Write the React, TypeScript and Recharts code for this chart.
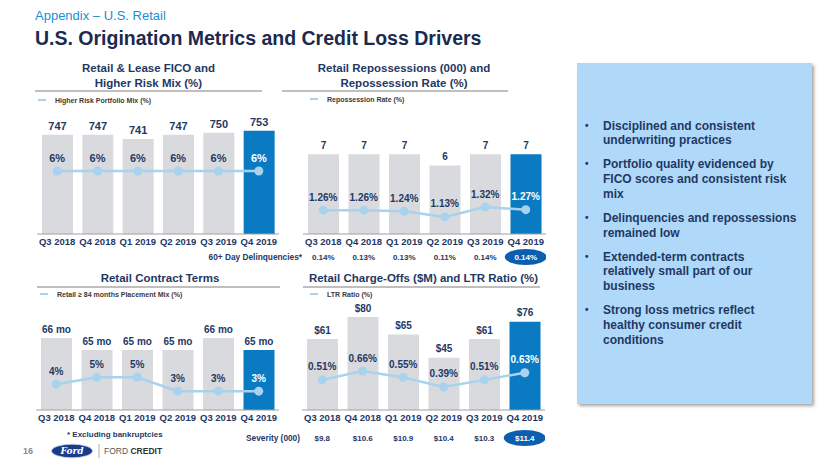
import React from 'react';
import { ComposedChart, Bar, Line, XAxis, YAxis, Cell, LabelList } from 'recharts';

// quarters shared by all four panels
const quarters = ['Q3 2018', 'Q4 2018', 'Q1 2019', 'Q2 2019', 'Q3 2019', 'Q4 2019'];

// Retail & Lease FICO and Higher Risk Mix
const ficoScores = [747, 747, 741, 747, 750, 753];
const higherRiskMix = [6, 6, 6, 6, 6, 6];

// Retail Repossessions (000) and Repossession Rate
const repossessions = [7, 7, 7, 6, 7, 7];
const repossessionRate = [1.26, 1.26, 1.24, 1.13, 1.32, 1.27];
const delinquencies = [0.14, 0.13, 0.13, 0.11, 0.14, 0.14];

// Retail Contract Terms
const contractTerms = [66, 65, 65, 65, 66, 65];
const extendedTermMix = [4, 5, 5, 3, 3, 3];

// Retail Charge-Offs ($M) and LTR Ratio
const chargeOffs = [61, 80, 65, 45, 61, 76];
const ltrRatio = [0.51, 0.66, 0.55, 0.39, 0.51, 0.63];
const severity = [9.8, 10.6, 10.9, 10.4, 10.3, 11.4];

const bullets = [
  ['Disciplined and consistent', 'underwriting practices'],
  ['Portfolio quality evidenced by', 'FICO scores and consistent risk', 'mix'],
  ['Delinquencies and repossessions', 'remained low'],
  ['Extended-term contracts', 'relatively small part of our', 'business'],
  ['Strong loss metrics reflect', 'healthy consumer credit', 'conditions'],
];

const FONT = '"Liberation Sans", Arial, sans-serif';
const NAVY = '#1f3864';
const GRAY_BAR = '#d9dadd';
const BLUE_BAR = '#0a7bc2';
const LINE = '#a8d2ee';
const OVAL = '#0c5fae';
const last = quarters.length - 1;

type PanelProps = {
  left: number;
  top: number;
  width: number;
  plotHeight: number;
  bars: number[];
  line: number[];
  barDomain: [number, number];
  lineDomain: [number, number];
  barFmt: (v: number) => string;
  lineFmt: (v: number) => string;
  labelSize: number;
  row?: string[];
  rowOffset?: number;
};

function box(props: any) {
  const vb = props.viewBox || {};
  return {
    x: props.x ?? vb.x,
    y: props.y ?? vb.y,
    w: props.width ?? vb.width ?? 0,
  };
}

function Panel(p: PanelProps) {
  const data = quarters.map((q, i) => ({ q, bar: p.bars[i], line: p.line[i] }));
  const axisH = p.row ? 16 : 24;
  const rowH = p.row ? 24 : 0;
  const height = 10 + p.plotHeight + axisH + rowH;

  const barLabel = (props: any) => {
    const { x, y, w } = box(props);
    return (
      <text x={x + w / 2} y={y - 9} dy="0.35em" textAnchor="middle" fontSize={p.labelSize}
        fontWeight={700} fill={NAVY} fontFamily={FONT}>
        {p.barFmt(Number(props.value))}
      </text>
    );
  };

  const lineLabel = (props: any) => {
    const { x, y } = box(props);
    return (
      <text x={x} y={y - 13} dy="0.35em" textAnchor="middle" fontSize={p.labelSize}
        fontWeight={700} fill={props.index === last ? '#ffffff' : NAVY} fontFamily={FONT}>
        {p.lineFmt(Number(props.value))}
      </text>
    );
  };

  const rowTick = (t: any) => {
    const i = t.index;
    const cy = t.y + (p.rowOffset || 0);
    const hi = i === last;
    return (
      <g>
        {hi && <ellipse cx={t.x} cy={cy} rx={21} ry={8} fill={OVAL} />}
        <text x={t.x} y={cy} dy="0.35em" textAnchor="middle" fontSize={8} fontWeight={700}
          fill={hi ? '#ffffff' : NAVY} fontFamily={FONT}>
          {p.row ? p.row[i] : ''}
        </text>
      </g>
    );
  };

  return (
    <div style={{ position: 'absolute', left: p.left, top: p.top }}>
      <ComposedChart width={p.width} height={height} data={data}
        margin={{ top: 10, right: 0, left: 0, bottom: 0 }}>
        <XAxis xAxisId="main" dataKey="q" interval={0} tickLine={false} tickSize={0} tickMargin={4}
          height={axisH} axisLine={{ stroke: '#a0a0a0' }}
          tick={{ fontSize: 9.5, fontWeight: 700, fill: NAVY, fontFamily: FONT }} />
        {p.row && (
          <XAxis xAxisId="row" dataKey="q" interval={0} tickLine={false} tickSize={0} tickMargin={0}
            height={rowH} axisLine={false} tick={rowTick} />
        )}
        <YAxis yAxisId="bar" hide domain={p.barDomain} allowDataOverflow />
        <YAxis yAxisId="line" hide domain={p.lineDomain} allowDataOverflow />
        <Bar xAxisId="main" yAxisId="bar" dataKey="bar" barSize={31} isAnimationActive={false}>
          {data.map((_, i) => (
            <Cell key={i} fill={i === last ? BLUE_BAR : GRAY_BAR} />
          ))}
          <LabelList dataKey="bar" content={barLabel} />
        </Bar>
        <Line xAxisId="main" yAxisId="line" dataKey="line" type="linear" stroke={LINE} strokeWidth={2.5}
          dot={{ r: 4.5, fill: LINE, stroke: LINE, strokeWidth: 0 }} isAnimationActive={false}>
          <LabelList dataKey="line" content={lineLabel} />
        </Line>
      </ComposedChart>
    </div>
  );
}

function Title({ left, top, width, lines }: { left: number; top: number; width: number; lines: string[] }) {
  return (
    <div style={{
      position: 'absolute', left, top, width, textAlign: 'center', fontSize: 11.5,
      fontWeight: 700, lineHeight: '15px', color: NAVY, whiteSpace: 'nowrap',
    }}>
      {lines.map((l, i) => <div key={i}>{l}</div>)}
    </div>
  );
}

function Rule({ left, top, width }: { left: number; top: number; width: number }) {
  return <div style={{ position: 'absolute', left, top, width, height: 1.5, background: '#bfbfbf' }} />;
}

function LegendItem({ left, top, label }: { left: number; top: number; label: string }) {
  return (
    <div style={{ position: 'absolute', left, top: top - 5, height: 10, display: 'flex', alignItems: 'center', whiteSpace: 'nowrap' }}>
      <div style={{ width: 8, height: 2.5, background: LINE, marginRight: 9 }} />
      <span style={{ fontSize: 7, fontWeight: 700, color: '#3a3a3a' }}>{label}</span>
    </div>
  );
}

export default function App() {
  return (
    <div style={{
      position: 'absolute', left: 0, top: 0, width: 830, height: 467, background: '#ffffff',
      fontFamily: FONT, overflow: 'hidden',
    }}>
      <div style={{ position: 'absolute', left: 35, top: 8, fontSize: 13, lineHeight: '16px', color: '#1b8fd2' }}>
        Appendix – U.S. Retail
      </div>
      <div style={{
        position: 'absolute', left: 35, top: 26, fontSize: 19.5, lineHeight: '24px', fontWeight: 700,
        color: '#1b2a4e', whiteSpace: 'nowrap',
      }}>
        U.S. Origination Metrics and Credit Loss Drivers
      </div>

      {/* top-left */}
      <Title left={35} top={60.5} width={227} lines={['Retail & Lease FICO and', 'Higher Risk Mix (%)']} />
      <Rule left={35} top={90} width={227} />
      <LegendItem left={38} top={100} label="Higher Risk Portfolio Mix (%)" />
      <Panel left={37} top={110} width={242} plotHeight={114}
        bars={ficoScores} line={higherRiskMix} barDomain={[600, 769]} lineDomain={[0, 10.86]}
        barFmt={(v) => `${v}`} lineFmt={(v) => `${v}%`} labelSize={11} />

      {/* top-right */}
      <Title left={282} top={60.5} width={244} lines={['Retail Repossessions (000) and', 'Repossession Rate (%)']} />
      <Rule left={282} top={90} width={226} />
      <LegendItem left={310} top={99} label="Repossession Rate (%)" />
      <Panel left={303} top={110} width={243} plotHeight={114}
        bars={repossessions} line={repossessionRate} barDomain={[0, 10]} lineDomain={[0.8, 3.0]}
        barFmt={(v) => `${v}`} lineFmt={(v) => `${v.toFixed(2)}%`} labelSize={10}
        row={delinquencies.map((v) => `${v.toFixed(2)}%`)} rowOffset={7} />
      <div style={{
        position: 'absolute', left: 190, width: 112, top: 252, textAlign: 'right', fontSize: 8.3,
        lineHeight: '10px', fontWeight: 700, color: NAVY, whiteSpace: 'nowrap',
      }}>
        60+ Day Delinquencies*
      </div>

      {/* bottom-left */}
      <Title left={37} top={270.5} width={246} lines={['Retail Contract Terms']} />
      <Rule left={37} top={286} width={243} />
      <LegendItem left={40} top={294} label="Retail ≥ 84 months Placement Mix (%)" />
      <Panel left={36} top={296} width={243} plotHeight={104}
        bars={contractTerms} line={extendedTermMix} barDomain={[60, 68.67]} lineDomain={[0.3, 15.2]}
        barFmt={(v) => `${v} mo`} lineFmt={(v) => `${v}%`} labelSize={10} />

      {/* bottom-right */}
      <Title left={303} top={271} width={241} lines={['Retail Charge-Offs ($M) and LTR Ratio (%)']} />
      <Rule left={303} top={286} width={237} />
      <LegendItem left={310} top={294} label="LTR Ratio (%)" />
      <Panel left={302} top={296} width={243} plotHeight={104}
        bars={chargeOffs} line={ltrRatio} barDomain={[0, 89.5]} lineDomain={[0, 1.76]}
        barFmt={(v) => `$${v}`} lineFmt={(v) => `${v.toFixed(2)}%`} labelSize={10}
        row={severity.map((v) => `$${v.toFixed(1)}`)} rowOffset={12} />
      <div style={{
        position: 'absolute', left: 190, width: 110, top: 433, textAlign: 'right', fontSize: 8.3,
        lineHeight: '10px', fontWeight: 700, color: NAVY, whiteSpace: 'nowrap',
      }}>
        Severity (000)
      </div>

      {/* footnote and footer */}
      <div style={{ position: 'absolute', left: 67, top: 430, fontSize: 8, lineHeight: '10px', fontWeight: 700, color: NAVY }}>
        * Excluding bankruptcies
      </div>
      <div style={{ position: 'absolute', left: 23, top: 446, fontSize: 9, lineHeight: '10px', fontWeight: 700, color: '#8a8a8a' }}>
        16
      </div>
      <svg style={{ position: 'absolute', left: 48, top: 440 }} width={130} height={22}>
        <ellipse cx={24} cy={11} rx={20.5} ry={6.8} fill="#1a3c8c" stroke="#c8d2e6" strokeWidth={0.8} />
        <text x={24} y={11} dy="0.35em" textAnchor="middle" fontSize={9} fontStyle="italic" fontWeight={700}
          fill="#ffffff" fontFamily='"DejaVu Serif", serif'>Ford</text>
        <line x1={51} y1={4} x2={51} y2={18} stroke="#9a9a9a" strokeWidth={0.8} />
        <text x={56} y={11} dy="0.35em" fontSize={8.5} fill="#555555" fontFamily={FONT}>
          FORD <tspan fontWeight={700} fill="#333333">CREDIT</tspan>
        </text>
      </svg>

      {/* right text panel */}
      <div style={{
        position: 'absolute', left: 577, top: 63, width: 235, height: 341, background: '#b0d9f9',
        boxShadow: '2px 2px 3px rgba(0,0,0,0.35)',
      }} />
      <div style={{ position: 'absolute', left: 585, top: 118.6 }}>
        {bullets.map((b, i) => (
          <div key={i} style={{ display: 'flex', marginBottom: 9.4 }}>
            <div style={{ width: 18, fontSize: 10, lineHeight: '14.7px', fontWeight: 700, color: NAVY }}>•</div>
            <div style={{ fontSize: 12, lineHeight: '14.7px', fontWeight: 700, color: NAVY, whiteSpace: 'nowrap' }}>
              {b.map((l, j) => <div key={j}>{l}</div>)}
            </div>
          </div>
        ))}
      </div>
    </div>
  );
}
